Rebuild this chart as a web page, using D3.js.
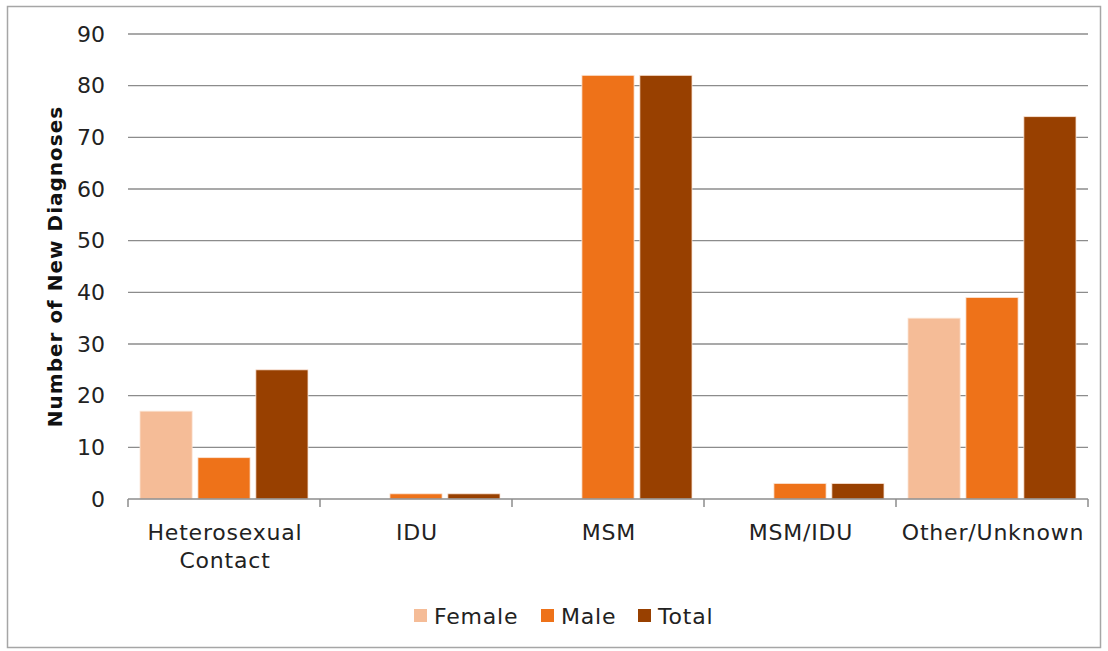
<!DOCTYPE html>
<html><head><meta charset="utf-8">
<script src="https://cdn.jsdelivr.net/npm/d3@7"></script>
<style>body{margin:0;background:#fff;} svg{display:block;}</style>
</head><body>
<svg id="chart" width="1108" height="651"></svg>
<script>
const categories = [["Heterosexual","Contact"],["IDU"],["MSM"],["MSM/IDU"],["Other/Unknown"]];
const seriesNames = ["Female","Male","Total"];
const female = [17, 0, 0, 0, 35];
const male = [8, 1, 82, 3, 39];
const total = [25, 1, 82, 3, 74];
const yTicks = [0,10,20,30,40,50,60,70,80,90];
const colors = ["#F5BC97","#EE7219","#984000"];

(function(){
const font = "'DejaVu Sans', sans-serif";
const svg = d3.select("#chart");
svg.append("rect").attr("x",7.5).attr("y",6.5).attr("width",1093).attr("height",641)
  .attr("fill","#fff").attr("stroke","#a6a6a6").attr("stroke-width",1.5);

const pL=128, pR=1088, pT=34, pB=499;
const x0 = d3.scaleBand().domain(d3.range(categories.length)).range([pL,pR]).paddingInner(0).paddingOuter(0);
const x1 = d3.scaleBand().domain(seriesNames).range([12, x0.bandwidth()-12]).paddingInner(0.1);
const y = d3.scaleLinear().domain([0,90]).range([pB,pT]);

svg.append("g").selectAll("line").data(yTicks.filter(d=>d>0)).join("line")
  .attr("x1",pL).attr("x2",pR).attr("y1",d=>y(d)).attr("y2",d=>y(d))
  .attr("stroke","#8c8c8c").attr("stroke-width",1.3);

const series = [female, male, total];
const g = svg.append("g");
series.forEach((vals,si)=>{
  const data = vals.map((v,i)=>({v,i})).filter(d=>d.v>0);
  g.selectAll(null).data(data).join("rect")
    .attr("x",d=>x0(d.i)+x1(seriesNames[si]))
    .attr("width",x1.bandwidth())
    .attr("y",d=>y(d.v))
    .attr("height",d=>y(0)-y(d.v))
    .attr("fill",colors[si])
    .attr("stroke","#fbe4d5").attr("stroke-width",0.8);
});

const yAxis = d3.axisLeft(y).tickValues(yTicks).tickSize(0).tickPadding(23);
const ya = svg.append("g").attr("transform",`translate(${pL},0)`).call(yAxis);
ya.select(".domain").remove();
ya.selectAll("text").attr("font-family",font).attr("font-size",22).attr("fill","#222");

const xa = svg.append("g").attr("transform",`translate(0,${pB})`);
xa.append("line").attr("x1",pL).attr("x2",pR).attr("stroke","#8c8c8c").attr("stroke-width",1.5);
xa.selectAll("line.tk").data(d3.range(categories.length+1)).join("line").attr("class","tk")
  .attr("x1",i=>pL+i*x0.bandwidth()).attr("x2",i=>pL+i*x0.bandwidth())
  .attr("y1",0).attr("y2",8).attr("stroke","#8c8c8c").attr("stroke-width",1.5);
categories.forEach((lines,i)=>{
  const cx = x0(i)+x0.bandwidth()/2+1;
  const t = xa.append("text").attr("x",cx).attr("y",41)
    .attr("text-anchor","middle").attr("font-family",font).attr("font-size",22)
    .attr("letter-spacing","0.8px").attr("fill","#222");
  lines.forEach((l,k)=>t.append("tspan").attr("x",cx).attr("dy",k?28:0).text(l));
});

svg.append("text").attr("transform",`translate(62,${(pT+pB)/2}) rotate(-90)`)
  .attr("text-anchor","middle").attr("font-family",font).attr("font-weight","bold")
  .attr("font-size",20).attr("letter-spacing","1px").attr("fill","#111").text("Number of New Diagnoses");

const legX = [414, 541, 638];
const lg = svg.append("g");
seriesNames.forEach((n,i)=>{
  lg.append("rect").attr("x",legX[i]).attr("y",609).attr("width",13).attr("height",13).attr("fill",colors[i]);
  lg.append("text").attr("x",legX[i]+20).attr("y",624).attr("font-family",font).attr("font-size",22)
    .attr("letter-spacing","0.8px").attr("fill","#222").text(n);
});
})();
</script>
</body></html>
